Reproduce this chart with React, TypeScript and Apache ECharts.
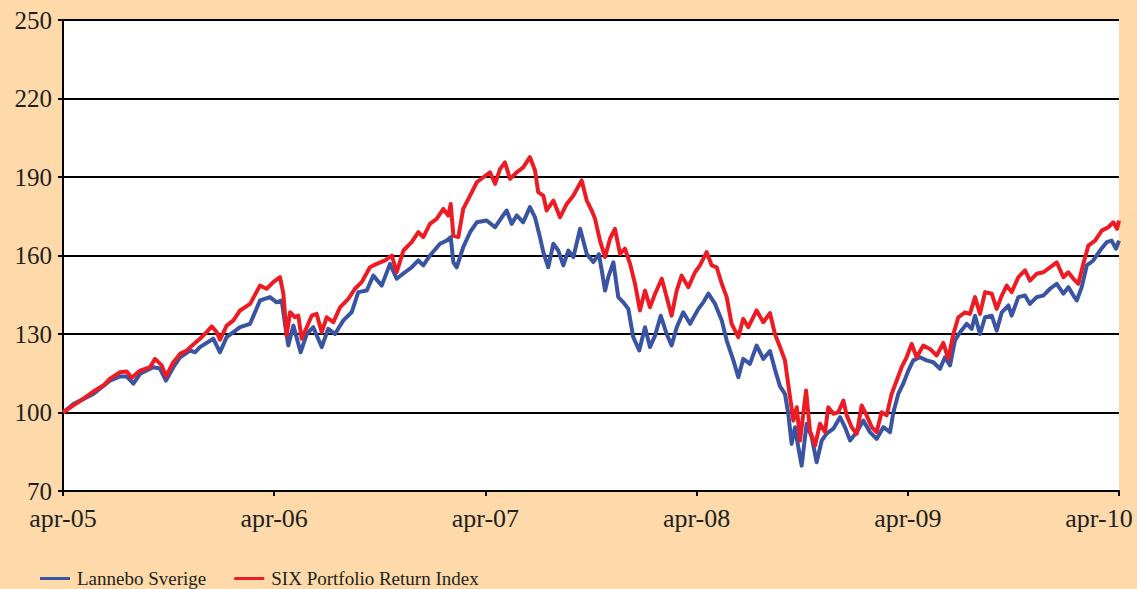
import React, { useEffect, useRef } from "react";
import * as echarts from "echarts";

// x = months since April 2005, y = index value
const seriesNames = ["Lannebo Sverige", "SIX Portfolio Return Index"];
const yearLabels = ["apr-05", "apr-06", "apr-07", "apr-08", "apr-09", "apr-10"];

const lannebo: [number, number][] = [
  [0, 100], [0.59, 103.2], [1.72, 107.1], [2.67, 112.2], [3.24, 113.8], [3.62, 113.8], [4.0, 111], [4.38, 114.8],
  [5.13, 117.3], [5.51, 116.8], [5.85, 112.2], [6.27, 117.3], [6.65, 121.1], [7.22, 123.7], [7.5, 123], [7.78, 125],
  [8.54, 128.2], [8.92, 123], [9.3, 128.8], [10.06, 132.6], [10.63, 133.9], [11.19, 142.8], [11.76, 144.1], [12.14, 142.1],
  [12.43, 142.8], [12.61, 133.9], [12.8, 125.6], [13.09, 133.2], [13.5, 123], [13.85, 130], [14.22, 132.6], [14.7, 125],
  [15.07, 132], [15.45, 130], [15.93, 135.2], [16.4, 138.3], [16.78, 146], [17.26, 146.6], [17.63, 152.3], [18.11, 148.5],
  [18.58, 156.8], [18.96, 151.1], [19.43, 153.6], [19.81, 155.5], [20.19, 158.1], [20.47, 156.2], [20.85, 160], [21.42, 164.5],
  [21.8, 165.7], [22.03, 167], [22.18, 157.4], [22.37, 155.5], [22.74, 163.2], [23.13, 168.9], [23.51, 172.7], [24.07, 173.4],
  [24.55, 170.8], [24.93, 174.6], [25.21, 177.2], [25.49, 172.1], [25.78, 175.3], [26.15, 172.7], [26.53, 178.5], [26.82, 174.6],
  [27.1, 167], [27.29, 161.3], [27.57, 155.5], [27.86, 164.5], [28.14, 161.9], [28.43, 156.2], [28.71, 161.9], [29.0, 159.4],
  [29.38, 170.2], [29.76, 160.6], [30.13, 157.5], [30.45, 160.5], [30.61, 154.3], [30.8, 146.6], [30.98, 151.7], [31.27, 157.4],
  [31.55, 144.1], [31.84, 142.1], [32.12, 139.6], [32.4, 128.8], [32.74, 123.7], [33.07, 132.6], [33.35, 125], [33.64, 129.4],
  [33.96, 137], [34.3, 130], [34.58, 125.6], [34.87, 132.6], [35.24, 138.3], [35.63, 133.9], [36.1, 139.6], [36.38, 142.1],
  [36.67, 145.4], [37.05, 141.5], [37.43, 135.2], [37.71, 127.5], [38.09, 119.9], [38.37, 113.5], [38.65, 120.5], [39.03, 118.6],
  [39.41, 125.6], [39.79, 120.5], [40.17, 123.5], [40.45, 116.5], [40.74, 110], [41.02, 107.1], [41.21, 99.5], [41.4, 88],
  [41.59, 94.4], [41.78, 86.7], [41.97, 79.7], [42.25, 95.7], [42.54, 90.6], [42.82, 81], [43.11, 89.3], [43.39, 91.9],
  [43.77, 93.8], [44.15, 98.2], [44.43, 94.4], [44.72, 89.3], [45.1, 92.5], [45.47, 96.9], [45.85, 92.5], [46.23, 89.9],
  [46.61, 94.4], [46.99, 92.5], [47.18, 100.1], [47.46, 107.1], [47.74, 111], [48.03, 116], [48.31, 119.9], [48.69, 121.1],
  [49.07, 119.9], [49.45, 119.2], [49.83, 116.7], [50.11, 121.1], [50.4, 118], [50.68, 127.5], [50.97, 130.7], [51.35, 133.9],
  [51.63, 132], [51.82, 137], [52.1, 130], [52.39, 136.4], [52.77, 137], [53.05, 131.3], [53.34, 138.3], [53.72, 140.9],
  [53.9, 137], [54.28, 144.1], [54.66, 144.7], [54.94, 141.5], [55.32, 144.1], [55.7, 144.7], [56.08, 147.3], [56.46, 149.2],
  [56.84, 145.4], [57.12, 147.9], [57.41, 144.7], [57.6, 142.8], [57.88, 147.9], [58.17, 156.2], [58.54, 158.1], [58.92, 161.9],
  [59.3, 165.1], [59.58, 165.7], [59.83, 162.6], [60, 165.7],
];

const sixIndex: [number, number][] = [
  [0, 100], [0.59, 102.7], [1.15, 105.2], [1.72, 108], [2.29, 110.3], [2.67, 112.9], [3.24, 115.4], [3.62, 115.7],
  [3.9, 113.3], [4.38, 116], [4.94, 117.3], [5.23, 120.5], [5.61, 118], [5.85, 113.8], [6.27, 119.2], [6.65, 122.4],
  [7.03, 123.7], [7.4, 126], [7.78, 128.2], [8.16, 130.7], [8.45, 132.9], [8.73, 130.7], [8.92, 127.8], [9.3, 133.2],
  [9.68, 135.2], [10.06, 139], [10.63, 141.5], [11.19, 148.5], [11.57, 147.3], [11.95, 149.8], [12.33, 151.7], [12.52, 145.4],
  [12.71, 129.4], [12.9, 138.3], [13.18, 136.4], [13.37, 137], [13.56, 128.2], [13.85, 132.6], [14.13, 137], [14.41, 137.7],
  [14.7, 130.7], [14.98, 136.4], [15.36, 134.5], [15.74, 140.2], [16.21, 143.4], [16.59, 147.3], [16.97, 149.8], [17.44, 155.5],
  [17.82, 156.8], [18.3, 158.1], [18.68, 160], [18.96, 153.6], [19.34, 161.9], [19.81, 165.1], [20.19, 168.9], [20.47, 167],
  [20.85, 172.1], [21.23, 174], [21.61, 177.8], [21.89, 175.3], [22.03, 179.7], [22.18, 167.6], [22.46, 167], [22.74, 177.8],
  [23.13, 182.9], [23.51, 188], [23.88, 189.9], [24.26, 191.8], [24.55, 187.4], [24.83, 193], [25.11, 195.6], [25.4, 189.3],
  [25.78, 191.8], [26.15, 193.7], [26.53, 197.6], [26.82, 192.5], [27.0, 184.2], [27.29, 182.9], [27.48, 177.2], [27.86, 181],
  [28.24, 174.6], [28.62, 179.7], [29.0, 182.9], [29.47, 188.7], [29.76, 181], [30.04, 177.2], [30.23, 174], [30.51, 165.7],
  [30.8, 159.4], [31.08, 166.4], [31.36, 170.2], [31.65, 160.6], [31.93, 162.6], [32.22, 156.8], [32.5, 149.2], [32.78, 139],
  [33.07, 146.6], [33.35, 140.2], [33.64, 145.4], [34.02, 151.1], [34.3, 144.1], [34.58, 137], [34.87, 146.6], [35.15, 152.3],
  [35.53, 147.9], [35.91, 153.6], [36.19, 156.2], [36.57, 161.3], [36.86, 156.2], [37.14, 155.5], [37.43, 149.2], [37.71, 144.1],
  [37.99, 133.9], [38.37, 128.8], [38.65, 135.8], [38.94, 132.6], [39.41, 139], [39.79, 134.5], [40.17, 138], [40.45, 130],
  [40.74, 125], [41.02, 119.9], [41.31, 105.8], [41.5, 96.9], [41.69, 102], [41.88, 89.3], [42.06, 99.5], [42.22, 108.4],
  [42.44, 93.1], [42.73, 87.4], [43.01, 95.7], [43.3, 92.5], [43.48, 102], [43.77, 99.5], [44.05, 100.1], [44.34, 104.6],
  [44.53, 98.9], [44.81, 94.4], [45.1, 91.9], [45.38, 102.7], [45.66, 98.9], [45.95, 94.4], [46.23, 92.5], [46.51, 100.1],
  [46.8, 98.9], [47.08, 107.1], [47.37, 112.2], [47.65, 117.3], [47.93, 121.1], [48.22, 126.2], [48.5, 121.1], [48.88, 125.6],
  [49.26, 124.3], [49.64, 121.8], [50.02, 126.6], [50.3, 120.5], [50.59, 130], [50.87, 136.4], [51.25, 138.3], [51.53, 137.7],
  [51.82, 144.1], [52.1, 137.7], [52.39, 146], [52.77, 145.4], [53.05, 139.6], [53.34, 144.7], [53.62, 148.5], [53.9, 146],
  [54.28, 151.7], [54.66, 154.3], [54.94, 150.4], [55.32, 153], [55.7, 153.6], [56.08, 155.5], [56.46, 157.4], [56.84, 151.7],
  [57.12, 153.6], [57.41, 151.1], [57.69, 149.2], [57.97, 156.8], [58.26, 163.8], [58.64, 165.7], [59.02, 169.5], [59.39, 170.8],
  [59.68, 172.7], [59.89, 170.2], [60, 173.4],
];

const FONT = "'Liberation Serif', 'Times New Roman', serif";
const TEXT_COLOR = "#231F20";

export default function App() {
  const ref = useRef<HTMLDivElement>(null);

  useEffect(() => {
    if (!ref.current) return;
    const chart = echarts.init(ref.current, undefined, { renderer: "svg" });
    chart.setOption({
      animation: false,
      backgroundColor: "#FED9A9",
      grid: { left: 63, right: 18, top: 20, bottom: 98, containLabel: false, show: true, backgroundColor: "#FFFFFF", borderWidth: 0 },
      legend: {
        data: seriesNames,
        left: 35,
        top: 564,
        icon: "rect",
        itemWidth: 30,
        itemHeight: 3,
        itemGap: 28,
        textStyle: { fontFamily: FONT, fontSize: 19, color: TEXT_COLOR, padding: [0, 0, 0, 2] },
      },
      xAxis: {
        type: "value",
        min: 0,
        max: 60,
        interval: 12,
        axisLine: { show: true, onZero: false, lineStyle: { color: "#000", width: 2 } },
        axisTick: { show: true, length: 5, lineStyle: { color: "#000", width: 2 } },
        splitLine: { show: false },
        axisLabel: {
          margin: 14,
          fontFamily: FONT,
          fontSize: 26,
          color: TEXT_COLOR,
          formatter: (v: number) => {
            const i = Math.round(v / 12);
            const label = yearLabels[i] ?? "";
            return i === yearLabels.length - 1 ? `{last|${label}}` : label;
          },
          rich: {
            last: { fontFamily: FONT, fontSize: 26, color: TEXT_COLOR, padding: [0, 40, 0, 0] },
          },
        },
      },
      yAxis: {
        type: "value",
        min: 70,
        max: 250,
        interval: 30,
        axisLine: { show: true, lineStyle: { color: "#000", width: 2 } },
        axisTick: { show: true, length: 5, lineStyle: { color: "#000", width: 2 } },
        splitLine: { show: true, lineStyle: { color: "#000", width: 2 } },
        axisLabel: { margin: 11, fontFamily: FONT, fontSize: 25, color: TEXT_COLOR, lineHeight: 22 },
      },
      series: [
        {
          name: seriesNames[0],
          type: "line",
          data: lannebo,
          showSymbol: false,
          symbol: "none",
          color: "#3A54A4",
          lineStyle: { width: 4, color: "#3A54A4", join: "round" },
        },
        {
          name: seriesNames[1],
          type: "line",
          data: sixIndex,
          showSymbol: false,
          symbol: "none",
          color: "#ED1C24",
          lineStyle: { width: 4, color: "#ED1C24", join: "round" },
        },
      ],
    });
    return () => chart.dispose();
  }, []);

  return (
    <div
      ref={ref}
      style={{ position: "absolute", left: 0, top: 0, width: 1137, height: 589 }}
    />
  );
}
